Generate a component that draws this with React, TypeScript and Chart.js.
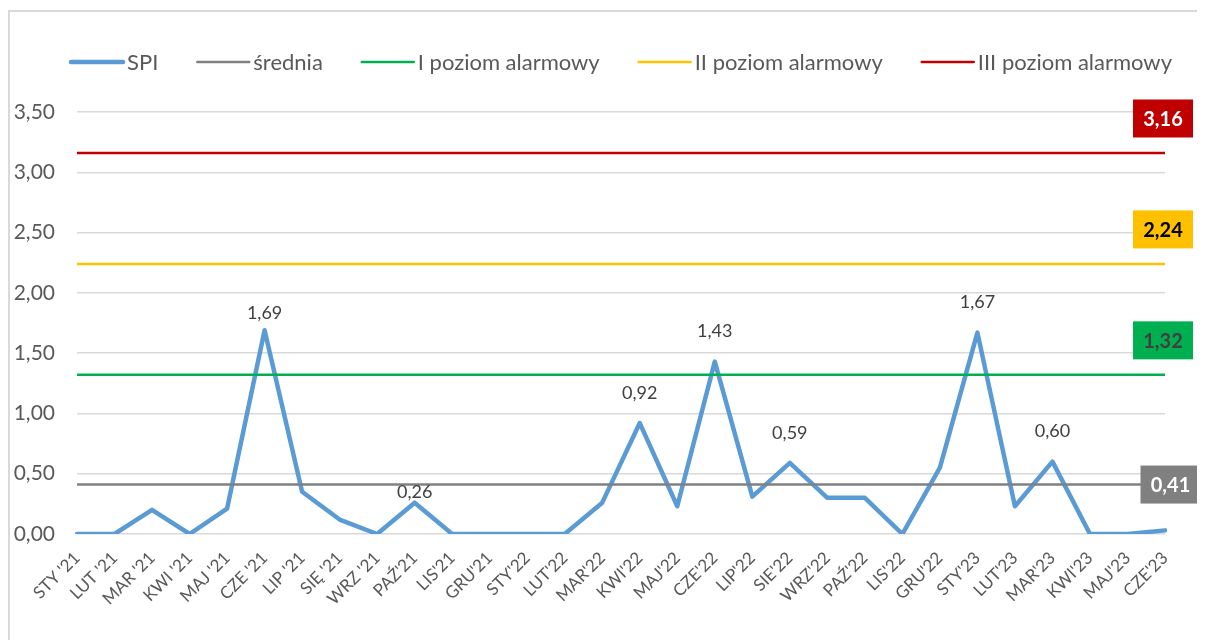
import React, { useEffect, useRef } from "react";
import { Chart, registerables } from "chart.js";

Chart.register(...registerables);

const categories = [
  "STY '21", "LUT '21", "MAR '21", "KWI '21", "MAJ '21", "CZE '21", "LIP '21", "SIĘ '21", "WRZ '21", "PAŹ'21",
  "LIS'21", "GRU'21", "STY'22", "LUT'22", "MAR'22", "KWI'22", "MAJ'22", "CZE'22", "LIP'22", "SIE'22",
  "WRZ'22", "PAŹ'22", "LIS'22", "GRU'22", "STY'23", "LUT'23", "MAR'23", "KWI'23", "MAJ'23", "CZE'23",
];

const spiValues = [
  0, 0, 0.2, 0, 0.21, 1.69, 0.35, 0.12, 0, 0.26,
  0, 0, 0, 0, 0.26, 0.92, 0.23, 1.43, 0.31, 0.59,
  0.3, 0.3, 0, 0.55, 1.67, 0.23, 0.6, 0, 0, 0.03,
];

const sredniaValue = 0.41;
const level1Value = 1.32;
const level2Value = 2.24;
const level3Value = 3.16;

const labeledIndexes = [5, 9, 15, 17, 19, 24, 26];

const yTicks = [0, 0.5, 1, 1.5, 2, 2.5, 3, 3.5];

const seriesNames = ["SPI", "średnia", "I poziom alarmowy", "II poziom alarmowy", "III poziom alarmowy"];

const FONT = "Lato, 'Open Sans', sans-serif";
const fmt = (v: number) => v.toFixed(2).replace(".", ",");

const labelOffsets: Record<number, number> = { 5: 17, 9: 10 };

export default function App() {
  const ref = useRef<HTMLCanvasElement>(null);

  useEffect(() => {
    if (!ref.current) return;
    const flat = (v: number) => categories.map(() => v);

    const borderPlugin = {
      id: "borderPlugin",
      beforeDraw(chart: any) {
        const ctx = chart.ctx;
        ctx.save();
        ctx.strokeStyle = "#d9d9d9";
        ctx.lineWidth = 2;
        ctx.beginPath();
        ctx.moveTo(1, chart.height + 5);
        ctx.lineTo(1, 3);
        ctx.lineTo(chart.width + 5, 3);
        ctx.stroke();
        ctx.restore();
      },
    };

    const legendPlugin = {
      id: "customLegend",
      afterDraw(chart: any) {
        const ctx = chart.ctx;
        ctx.save();
        ctx.font = `22px ${FONT}`;
        ctx.textBaseline = "middle";
        ctx.textAlign = "left";
        let x = 62;
        const y = 54;
        chart.data.datasets.forEach((ds: any) => {
          ctx.strokeStyle = ds.borderColor;
          ctx.lineWidth = ds.borderWidth;
          ctx.lineCap = "round";
          ctx.beginPath();
          ctx.moveTo(x + 1, y);
          ctx.lineTo(x + 53, y);
          ctx.stroke();
          x += 57;
          ctx.fillStyle = "#595959";
          ctx.fillText(ds.label, x, y + 1);
          x += ctx.measureText(ds.label).width + 38;
        });
        ctx.restore();
      },
    };

    const labelsPlugin = {
      id: "labelsPlugin",
      afterDatasetsDraw(chart: any) {
        const ctx = chart.ctx;
        const meta = chart.getDatasetMeta(0);
        const yScale = chart.scales.y;
        const area = chart.chartArea;
        ctx.save();
        ctx.font = `18px ${FONT}`;
        ctx.fillStyle = "#404040";
        ctx.textAlign = "center";
        ctx.textBaseline = "middle";
        labeledIndexes.forEach((i) => {
          const pt = meta.data[i];
          const off = labelOffsets[i] ?? 30;
          ctx.fillText(fmt(spiValues[i]), pt.x, pt.y - off);
        });

        const boxes = [
          { v: level3Value, bg: "#c00000", fg: "#ffffff", dy: -34.5, dx: -2 },
          { v: level2Value, bg: "#ffc000", fg: "#000000", dy: -34.5, dx: -2 },
          { v: level1Value, bg: "#00b050", fg: "#404040", dy: -34.5, dx: -2 },
          { v: sredniaValue, bg: "#808080", fg: "#ffffff", dy: 0, dx: 5.5 },
        ];
        ctx.font = `bold 20px ${FONT}`;
        boxes.forEach((b) => {
          const cy = yScale.getPixelForValue(b.v) + b.dy;
          const cx = area.right + b.dx;
          const w = 60, h = 38;
          ctx.fillStyle = b.bg;
          ctx.fillRect(cx - w / 2, cy - h / 2, w, h);
          ctx.fillStyle = b.fg;
          ctx.fillText(fmt(b.v), cx, cy + 1);
        });
        ctx.restore();
      },
    };

    const chart = new Chart(ref.current, {
      type: "line",
      data: {
        labels: categories,
        datasets: [
          {
            label: seriesNames[0],
            data: spiValues,
            borderColor: "#5b9bd5",
            backgroundColor: "#5b9bd5",
            borderWidth: 4.5,
            pointRadius: 0,
            tension: 0,
            borderJoinStyle: "round",
            borderCapStyle: "round",
            order: 10,
          },
          {
            label: seriesNames[1],
            data: flat(sredniaValue),
            borderColor: "#808080",
            backgroundColor: "#808080",
            borderWidth: 2.5,
            pointRadius: 0,
            order: 4,
          },
          {
            label: seriesNames[2],
            data: flat(level1Value),
            borderColor: "#00b050",
            backgroundColor: "#00b050",
            borderWidth: 2.5,
            pointRadius: 0,
            order: 3,
          },
          {
            label: seriesNames[3],
            data: flat(level2Value),
            borderColor: "#ffc000",
            backgroundColor: "#ffc000",
            borderWidth: 2.5,
            pointRadius: 0,
            order: 2,
          },
          {
            label: seriesNames[4],
            data: flat(level3Value),
            borderColor: "#c00000",
            backgroundColor: "#c00000",
            borderWidth: 2.5,
            pointRadius: 0,
            order: 1,
          },
        ] as any,
      },
      options: {
        animation: false,
        responsive: false,
        layout: { padding: { top: 104, right: 40, left: 0, bottom: 0 } },
        plugins: {
          legend: { display: false },
          tooltip: { enabled: false },
        },
        scales: {
          x: {
            offset: false,
            grid: { display: false, drawTicks: false },
            border: { display: false },
            ticks: {
              autoSkip: false,
              maxRotation: 45,
              minRotation: 45,
              color: "#595959",
              padding: 14,
              font: { family: FONT, size: 17 },
            },
            afterFit(s: any) {
              s.height = 106;
            },
          },
          y: {
            min: 0,
            max: 3.5,
            afterBuildTicks(s: any) {
              s.ticks = yTicks.map((v) => ({ value: v }));
            },
            grid: { color: "#d9d9d9", lineWidth: 1.5, drawTicks: false },
            border: { display: false },
            ticks: {
              color: "#595959",
              padding: 22,
              font: { family: FONT, size: 21 },
              callback: (v: any) => fmt(Number(v)),
            },
            afterFit(s: any) {
              s.width = 69;
            },
          },
        },
      },
      plugins: [borderPlugin, legendPlugin, labelsPlugin],
    });
    return () => chart.destroy();
  }, []);

  return <canvas ref={ref} width={1197} height={632} style={{ display: "block" }} />;
}
